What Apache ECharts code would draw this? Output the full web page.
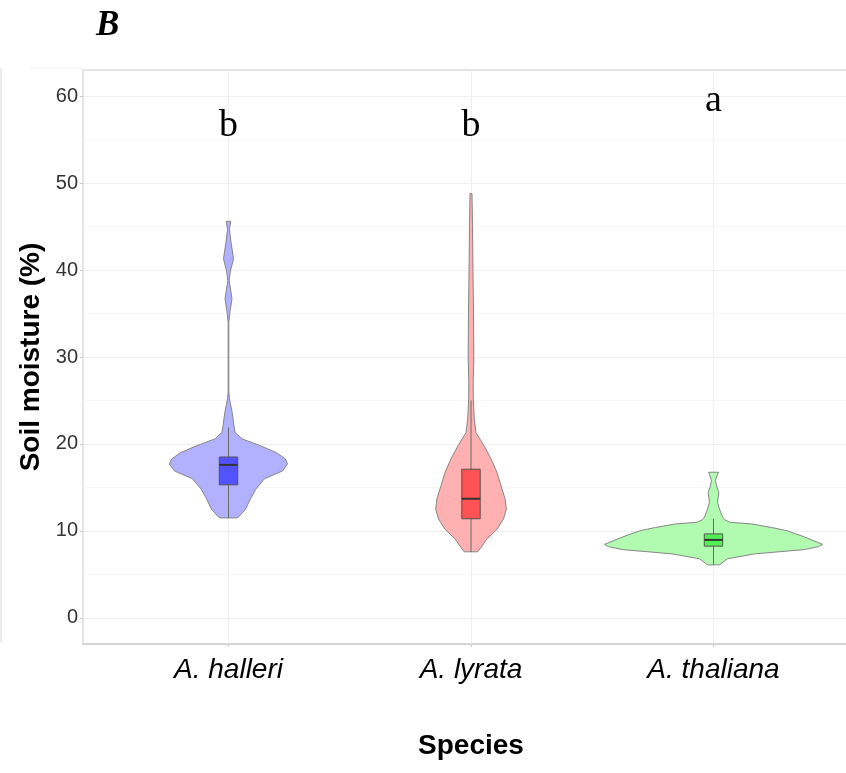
<!DOCTYPE html>
<html>
<head>
<meta charset="utf-8">
<title>Soil moisture violin</title>
<script src="https://cdn.jsdelivr.net/npm/echarts@6/dist/echarts.min.js"></script>
<style>
  html, body { margin: 0; padding: 0; background: #fff; }
  #chart { width: 846px; height: 773px; }
</style>
</head>
<body>
<div id="chart"></div>
<script>
// categories + axis ticks
const species = ['A. halleri', 'A. lyrata', 'A. thaliana']
const yTicks = [0, 10, 20, 30, 40, 50, 60]
const yMinor = [5, 15, 25, 35, 45, 55]

// violin outlines (moisture %, relative half width)
const halleriY = [11.5, 12.5, 13.7, 14.8, 16.0, 16.9, 17.7, 18.3, 19.0, 19.8, 20.6, 21.3, 22.1, 23.6, 25.2, 26.0, 34.0, 35.2, 36.7, 38.8, 39.9, 41.3, 43.2, 44.7, 45.6]
const halleriW = [0.083, 0.156, 0.202, 0.250, 0.330, 0.495, 0.541, 0.520, 0.440, 0.291, 0.122, 0.061, 0.050, 0.034, 0.009, 0.003, 0.003, 0.014, 0.032, 0.006, 0.018, 0.046, 0.023, 0.009, 0.021]

const lyrataY = [7.6, 8.1, 9.1, 10.2, 11.4, 12.5, 13.7, 15.2, 16.7, 18.3, 19.8, 21.3, 22.9, 25.2, 27.0, 30.0, 35.0, 40.0, 45.0, 48.8]
const lyrataW = [0.061, 0.092, 0.147, 0.239, 0.298, 0.324, 0.312, 0.275, 0.239, 0.183, 0.119, 0.046, 0.030, 0.021, 0.020, 0.026, 0.023, 0.018, 0.014, 0.009]

const thalianaY = [6.1, 6.8, 7.36, 7.86, 8.2, 8.45, 9.3, 10.0, 10.4, 10.8, 11.0, 11.3, 11.6, 12.5, 13.3, 14.4, 15.2, 15.8, 16.5, 16.75]
const thalianaW = [0.055, 0.128, 0.376, 0.835, 0.963, 1.0, 0.835, 0.68, 0.532, 0.35, 0.15, 0.10, 0.083, 0.055, 0.037, 0.049, 0.028, 0.018, 0.037, 0.046]

// box plot stats
const boxLow = [11.5, 7.6, 6.1]
const boxQ1 = [15.3, 11.4, 8.25]
const boxMed = [17.6, 13.7, 8.97]
const boxQ3 = [18.5, 17.1, 9.66]
const boxHigh = [21.9, 25.0, 11.4]

// significance letters
const sigLetters = ['b', 'b', 'a']
const sigY = [56.6, 56.6, 59.4]

const violinY = [halleriY, lyrataY, thalianaY]
const violinW = [halleriW, lyrataW, thalianaW]
const violinFill = ['#b1b1ff', '#ffb1b1', '#b1fbb1']
const boxFill = ['#5252ff', '#ff5252', '#52f052']
const VIOLIN_HALF = 0.45
const BOX_HALF = 0.038

const chart = echarts.init(document.getElementById('chart'))

function violinItem(params, api) {
  const i = params.dataIndex
  const cx = api.value(0)
  const ys = violinY[i], ws = violinW[i]
  const left = [], right = []
  ys.forEach((y, k) => {
    left.push(api.coord([cx - ws[k] * VIOLIN_HALF, y]))
    right.push(api.coord([cx + ws[k] * VIOLIN_HALF, y]))
  })
  return {
    type: 'polygon',
    shape: { points: left.concat(right.reverse()) },
    style: { fill: violinFill[i], stroke: '#858585', lineWidth: 1 }
  }
}

function boxItem(params, api) {
  const i = params.dataIndex
  const cx = api.value(0)
  const lo = api.coord([cx, boxLow[i]])
  const hi = api.coord([cx, boxHigh[i]])
  const tl = api.coord([cx - BOX_HALF, boxQ3[i]])
  const br = api.coord([cx + BOX_HALF, boxQ1[i]])
  const ml = api.coord([cx - BOX_HALF, boxMed[i]])
  const mr = api.coord([cx + BOX_HALF, boxMed[i]])
  return {
    type: 'group',
    children: [
      { type: 'line', shape: { x1: lo[0], y1: lo[1], x2: hi[0], y2: hi[1] }, style: { stroke: '#6a6a6a', lineWidth: 1 } },
      { type: 'rect', shape: { x: tl[0], y: tl[1], width: br[0] - tl[0], height: br[1] - tl[1] }, style: { fill: boxFill[i], stroke: '#555', lineWidth: 1 } },
      { type: 'line', shape: { x1: ml[0], y1: ml[1], x2: mr[0], y2: mr[1] }, style: { stroke: '#333', lineWidth: 2 } }
    ]
  }
}

function letterItem(params, api) {
  const i = params.dataIndex
  const p = api.coord([api.value(0), sigY[i]])
  return {
    type: 'text',
    x: p[0], y: p[1],
    style: {
      text: sigLetters[i],
      fontFamily: 'Liberation Serif',
      fontSize: 38,
      fill: '#000',
      align: 'center',
      verticalAlign: 'middle'
    }
  }
}

const gridLines = yTicks.map(v => ({ yAxis: v, lineStyle: { color: '#efefef' } }))
  .concat(yMinor.map(v => ({ yAxis: v, lineStyle: { color: '#f7f7f7' } })))
  .concat(species.map((s, i) => ({ xAxis: i + 1, lineStyle: { color: '#efefef' } })))

const catX = species.map((s, i) => [i + 1])

const option = {
  animation: false,
  backgroundColor: '#fff',
  title: {
    text: 'B',
    left: 91,
    top: 3,
    textStyle: { fontFamily: 'Liberation Serif', fontStyle: 'italic', fontWeight: 'bold', fontSize: 35, color: '#000' }
  },
  graphic: [
    { type: 'line', shape: { x1: 1, y1: 68, x2: 1, y2: 642 }, style: { stroke: '#d8d8d8', lineWidth: 1 } },
    { type: 'line', shape: { x1: 30, y1: 68, x2: 83, y2: 68 }, style: { stroke: '#f0f0f0', lineWidth: 1 } }
  ],
  grid: {
    left: 83, width: 776, top: 70, bottom: 129,
    outerBoundsMode: 'none',
    show: true, borderColor: '#e4e4e4', borderWidth: 2
  },
  xAxis: {
    type: 'value',
    min: 0.4,
    max: 3.6,
    splitLine: { show: false },
    axisLine: { show: true, onZero: false, lineStyle: { color: '#d4d4d4', width: 2 } },
    axisTick: { show: true, customValues: [1, 2, 3], length: 3, lineStyle: { color: '#c8c8c8' } },
    axisLabel: {
      customValues: [1, 2, 3],
      formatter: v => species[Math.round(v) - 1],
      fontFamily: 'Liberation Sans', fontStyle: 'italic', fontSize: 28, color: '#000', margin: 12
    },
    name: 'Species',
    nameLocation: 'middle',
    nameGap: 88,
    nameTextStyle: { fontFamily: 'Liberation Sans', fontWeight: 'bold', fontSize: 28, color: '#000' }
  },
  yAxis: {
    type: 'value',
    min: -3,
    max: 63,
    splitLine: { show: false },
    axisLine: { show: false },
    axisTick: { show: true, customValues: yTicks, length: 3, lineStyle: { color: '#c8c8c8' } },
    axisLabel: {
      customValues: yTicks,
      fontFamily: 'Liberation Sans', fontSize: 20, color: '#333', margin: 5
    },
    name: 'Soil moisture (%)',
    nameLocation: 'middle',
    nameGap: 36,
    nameTextStyle: { fontFamily: 'Liberation Sans', fontWeight: 'bold', fontSize: 28, color: '#000' }
  },
  series: [
    {
      type: 'line',
      data: [],
      silent: true,
      z: 1,
      markLine: { silent: true, z: 1, symbol: 'none', label: { show: false }, lineStyle: { type: 'solid', width: 1 }, data: gridLines }
    },
    { type: 'custom', name: 'violin', data: catX, renderItem: violinItem, z: 2, silent: true },
    { type: 'custom', name: 'box', data: catX, renderItem: boxItem, z: 3, silent: true },
    { type: 'custom', name: 'letters', data: catX, renderItem: letterItem, z: 4, silent: true }
  ]
}

chart.setOption(option)
</script>
</body>
</html>
